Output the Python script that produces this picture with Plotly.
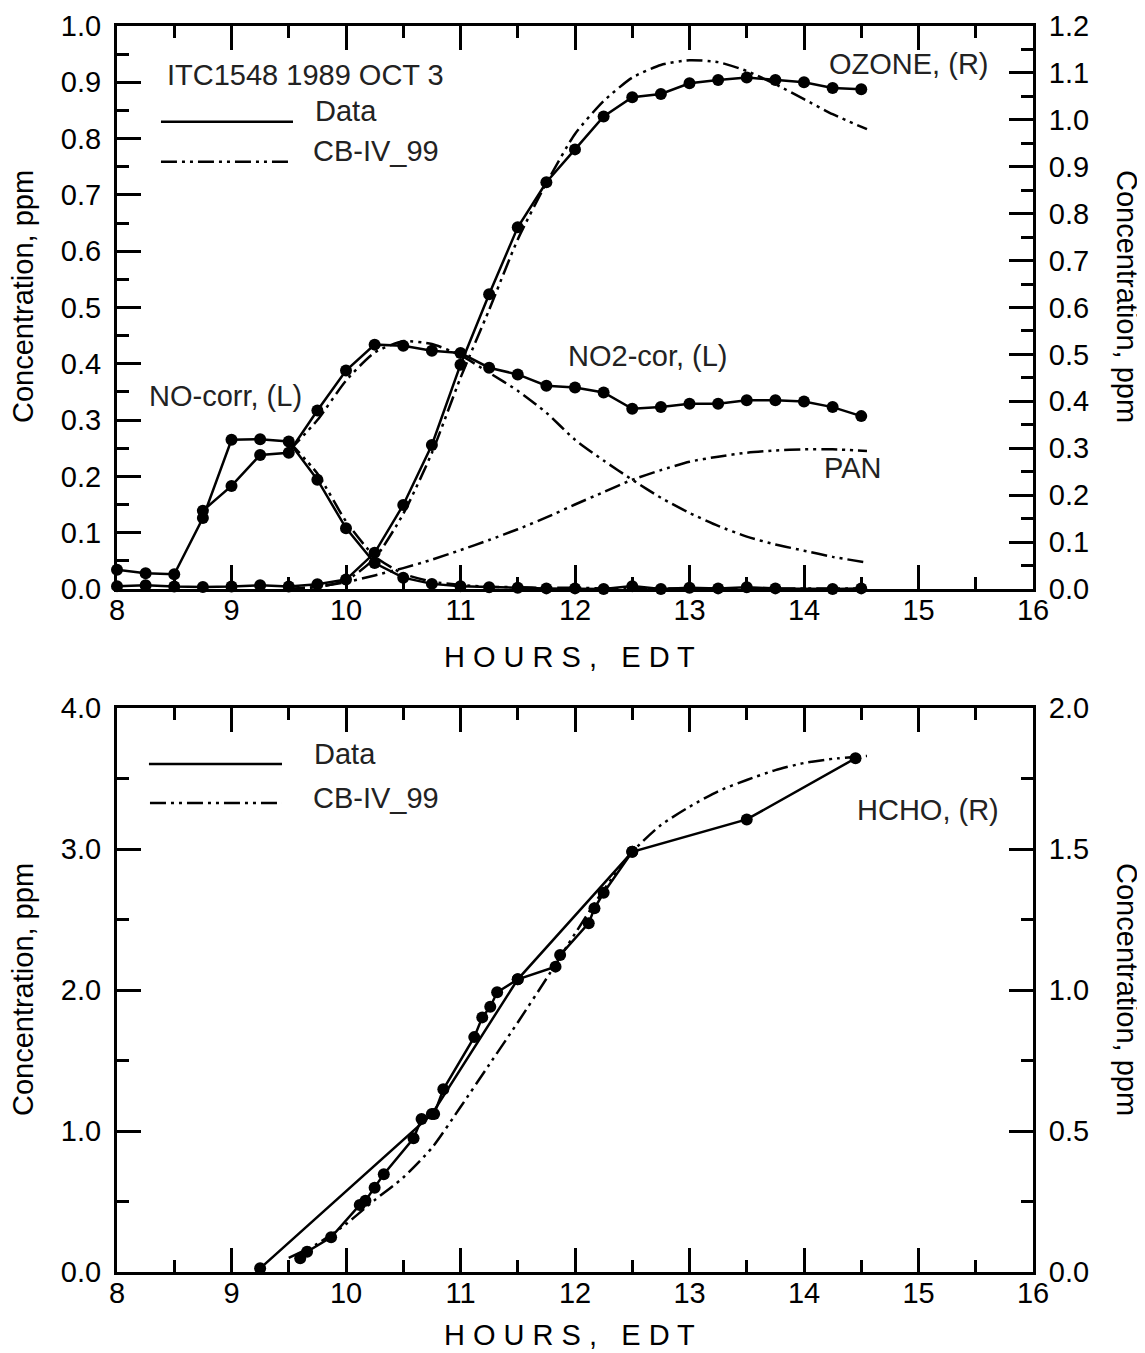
import plotly.graph_objects as go

# ---------------- Top panel data ----------------
hours_q = [8.0, 8.25, 8.5, 8.75, 9.0, 9.25, 9.5, 9.75, 10.0, 10.25, 10.5, 10.75, 11.0,
           11.25, 11.5, 11.75, 12.0, 12.25, 12.5, 12.75, 13.0, 13.25, 13.5, 13.75, 14.0,
           14.25, 14.5]
ozone_data = [0.006, 0.008, 0.005, 0.004, 0.005, 0.008, 0.005, 0.010, 0.020, 0.077, 0.179,
              0.307, 0.478, 0.628, 0.771, 0.867, 0.937, 1.007, 1.048, 1.055, 1.078, 1.085,
              1.090, 1.085, 1.080, 1.068, 1.065]

no_hours = [8.0, 8.25, 8.5, 8.75, 9.0, 9.25, 9.5, 9.75, 10.0, 10.25, 10.5, 10.75, 11.0,
            11.25, 11.5, 11.75, 12.0, 12.25, 12.5, 12.75, 13.0, 13.25, 13.5, 13.75, 14.25, 14.5]
no_data = [0.034, 0.028, 0.026, 0.126, 0.265, 0.266, 0.262, 0.194, 0.108, 0.046, 0.020,
           0.009, 0.005, 0.003, 0.002, 0.001, 0.001, 0.000, 0.005, 0.000, 0.002, 0.001,
           0.003, 0.001, 0.000, 0.001]

no2_hours = [8.75, 9.0, 9.25, 9.5, 9.75, 10.0, 10.25, 10.5, 10.75, 11.0, 11.25, 11.5, 11.75,
             12.0, 12.25, 12.5, 12.75, 13.0, 13.25, 13.5, 13.75, 14.0, 14.25, 14.5]
no2_data = [0.139, 0.183, 0.238, 0.242, 0.317, 0.388, 0.434, 0.432, 0.423, 0.419, 0.393,
            0.381, 0.361, 0.358, 0.349, 0.320, 0.323, 0.329, 0.329, 0.335, 0.335, 0.333,
            0.323, 0.307]

model_hours = [9.5, 9.75, 10.0, 10.25, 10.5, 10.75, 11.0, 11.25, 11.5, 11.75, 12.0, 12.25,
               12.5, 12.75, 13.0, 13.25, 13.5, 13.75, 14.0, 14.25, 14.55]
ozone_model = [0.0, 0.004, 0.018, 0.065, 0.16, 0.29, 0.45, 0.595, 0.745, 0.865, 0.97, 1.04,
               1.09, 1.117, 1.127, 1.123, 1.104, 1.076, 1.044, 1.012, 0.98]
no_model = [0.262, 0.205, 0.12, 0.058, 0.027, 0.013, 0.007, 0.004, 0.003, 0.002, 0.002,
            0.001, 0.001, 0.001, 0.001, 0.001, 0.001, 0.001, 0.001, 0.001, 0.001]
no2_model = [0.245, 0.30, 0.37, 0.42, 0.44, 0.435, 0.415, 0.384, 0.352, 0.313, 0.265, 0.228,
             0.194, 0.162, 0.135, 0.112, 0.093, 0.079, 0.068, 0.057, 0.047]
pan_model = [0.0, 0.004, 0.012, 0.024, 0.037, 0.052, 0.069, 0.087, 0.106, 0.127, 0.150,
             0.172, 0.194, 0.211, 0.226, 0.235, 0.242, 0.246, 0.248, 0.248, 0.245]

# ---------------- Bottom panel data (HCHO, right axis) ----------------
hcho1_hours = [9.25, 10.75, 11.5, 12.5, 13.5, 14.45]
hcho1_data = [0.013, 0.56, 1.038, 1.49, 1.605, 1.822]
hcho2_hours = [9.60, 9.66, 9.87, 10.12, 10.17, 10.25, 10.33, 10.59, 10.66, 10.77, 10.85,
               11.12, 11.19, 11.26, 11.32, 11.50, 11.83, 11.87, 12.12, 12.17, 12.25, 12.50]
hcho2_data = [0.049, 0.072, 0.123, 0.238, 0.253, 0.299, 0.347, 0.474, 0.543, 0.56, 0.648,
              0.833, 0.903, 0.941, 0.992, 1.038, 1.083, 1.124, 1.237, 1.29, 1.345, 1.49]
hcho_model_hours = [9.5, 9.75, 10.0, 10.25, 10.5, 10.75, 11.0, 11.25, 11.5, 11.75, 12.0,
                    12.25, 12.5, 12.75, 13.0, 13.25, 13.5, 13.75, 14.0, 14.25, 14.55]
hcho_model = [0.05, 0.1, 0.17, 0.255, 0.335, 0.44, 0.585, 0.735, 0.885, 1.04, 1.2, 1.355,
              1.49, 1.585, 1.65, 1.705, 1.745, 1.78, 1.805, 1.82, 1.83]

x_ticks = [8, 9, 10, 11, 12, 13, 14, 15, 16]

FONT = "Liberation Sans, Arial, sans-serif"
BLACK = "#000000"
TXT = "#222222"
DASH = "16px,5px,3px,5px,3px,5px"
FS = 29

fig = go.Figure()


def data_trace(x, y, xa, ya):
    fig.add_trace(go.Scatter(x=x, y=y, xaxis=xa, yaxis=ya, mode="lines+markers",
                             line=dict(color=BLACK, width=2.5),
                             marker=dict(color=BLACK, size=12, symbol="circle"),
                             cliponaxis=False, showlegend=False, hoverinfo="skip"))


def model_trace(x, y, xa, ya):
    fig.add_trace(go.Scatter(x=x, y=y, xaxis=xa, yaxis=ya, mode="lines",
                             line=dict(color=BLACK, width=2.5, dash=DASH, shape="spline",
                                       smoothing=0.6),
                             cliponaxis=False, showlegend=False, hoverinfo="skip"))


# top
model_trace(model_hours, pan_model, "x", "y")
model_trace(model_hours, no_model, "x", "y")
model_trace(model_hours, no2_model, "x", "y")
model_trace(model_hours, ozone_model, "x", "y2")
data_trace(no_hours, no_data, "x", "y")
data_trace(no2_hours, no2_data, "x", "y")
data_trace(hours_q, ozone_data, "x", "y2")
# bottom
model_trace(hcho_model_hours, hcho_model, "x2", "y4")
data_trace(hcho1_hours, hcho1_data, "x2", "y4")
data_trace(hcho2_hours, hcho2_data, "x2", "y4")

tickfont = dict(family=FONT, size=FS, color=BLACK)


def xaxis(anchor):
    return dict(range=[8, 16], anchor=anchor, tickvals=x_ticks, ticks="inside", ticklen=24,
                tickwidth=2.5, tickcolor=BLACK, showline=True, linewidth=3, linecolor=BLACK,
                mirror="ticks", showgrid=False, zeroline=False, tickfont=tickfont,
                minor=dict(ticks="inside", dtick=0.5, ticklen=12, tickwidth=2.5,
                           tickcolor=BLACK, showgrid=False),
                domain=[0, 1], fixedrange=True, ticklabelstandoff=-7)


def yaxis(rng, dtick, mdtick, fmt, dom, side="left", overlay=None, anchor=None):
    d = dict(range=rng, dtick=dtick, tick0=0, tickformat=fmt, ticks="inside", ticklen=24,
             tickwidth=2.5, tickcolor=BLACK, showline=True, linewidth=3, linecolor=BLACK,
             showgrid=False, zeroline=False, tickfont=tickfont, side=side,
             minor=dict(ticks="inside", dtick=mdtick, tick0=0, ticklen=12, tickwidth=2.5,
                        tickcolor=BLACK, showgrid=False),
             domain=dom, ticklabelstandoff=7, fixedrange=True)
    if overlay:
        d["overlaying"] = overlay
    if anchor:
        d["anchor"] = anchor
    return d


top_dom = [0.5482, 1.0]
bot_dom = [0.0, 0.4526]

# the page body adds an 8px offset, so the figure is 8px smaller than the window
fig.update_layout(
    width=1137, height=1345,
    margin=dict(l=109, r=112, t=18, b=81, autoexpand=False),
    paper_bgcolor="white", plot_bgcolor="white",
    xaxis=xaxis("y"),
    xaxis2=xaxis("y3"),
    yaxis=yaxis([0, 1.0], 0.1, 0.05, ".1f", top_dom, anchor="x"),
    yaxis2=yaxis([0, 1.2], 0.1, 0.05, ".1f", top_dom, side="right", overlay="y", anchor="x"),
    yaxis3=yaxis([0, 4.0], 1.0, 0.5, ".1f", bot_dom, anchor="x2"),
    yaxis4=yaxis([0, 2.0], 0.5, 0.25, ".1f", bot_dom, side="right", overlay="y3", anchor="x2"),
    showlegend=False,
)

annots = []


def txt(text, x, y, xref, yref, xanchor="left", size=FS, angle=0, color=TXT):
    annots.append(dict(text=text, x=x, y=y, xref=xref, yref=yref, xanchor=xanchor,
                       yanchor="middle", showarrow=False, textangle=angle,
                       font=dict(family=FONT, size=size, color=color)))


# top panel labels
txt("ITC1548 1989 OCT 3", 8.419, 0.913, "x", "y")
txt("Data", 9.712, 0.849, "x", "y")
txt("CB-IV_99", 9.694, 0.778, "x", "y")
txt("OZONE, (R)", 14.201, 0.932, "x", "y")
txt("NO-corr, (L)", 8.262, 0.342, "x", "y")
txt("NO2-cor, (L)", 11.921, 0.413, "x", "y")
txt("PAN", 14.157, 0.215, "x", "y")
# bottom panel labels
txt("Data", 9.703, 3.674, "x2", "y3")
txt("CB-IV_99", 9.694, 3.362, "x2", "y3")
txt("HCHO, (R)", 14.445, 3.277, "x2", "y3")

# axis titles (paper coords; plot area is 916 x 1246 px)
for yc in [0.7825, 0.2263]:
    txt("Concentration, ppm", -0.1026, yc, "paper", "paper", xanchor="center", angle=-90,
        color=BLACK)
    txt("Concentration, ppm", 1.1026, yc, "paper", "paper", xanchor="center", angle=90,
        color=BLACK)
for yc in [0.4936, -0.0506]:
    txt("H O U R S ,   E D T", 0.4945, yc, "paper", "paper", xanchor="center", color=BLACK)

fig.update_layout(annotations=annots)

# legend sample lines
shapes = [
    dict(type="line", xref="x", yref="y", x0=8.384, x1=9.537, y0=0.830, y1=0.830,
         line=dict(color=BLACK, width=2.5)),
    dict(type="line", xref="x", yref="y", x0=8.384, x1=9.528, y0=0.759, y1=0.759,
         line=dict(color=BLACK, width=2.5, dash=DASH)),
    dict(type="line", xref="x2", yref="y3", x0=8.279, x1=9.441, y0=3.603, y1=3.603,
         line=dict(color=BLACK, width=2.5)),
    dict(type="line", xref="x2", yref="y3", x0=8.288, x1=9.441, y0=3.326, y1=3.326,
         line=dict(color=BLACK, width=2.5, dash=DASH)),
]
fig.update_layout(shapes=shapes)

fig.write_html("out.html")
